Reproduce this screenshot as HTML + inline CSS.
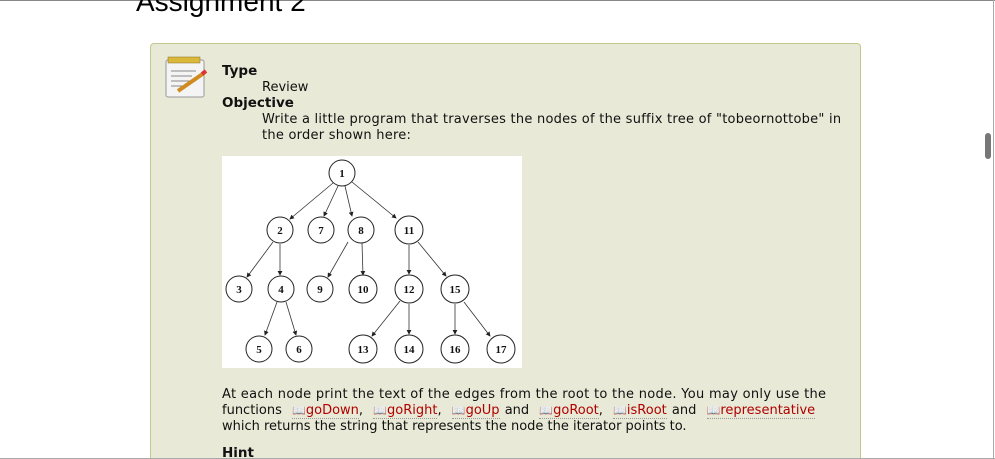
<!DOCTYPE html>
<html style="margin:0;width:995px;height:459px;overflow:hidden"><head><meta charset="utf-8"><style>
body{margin:0;width:995px;height:459px;overflow:hidden;background:#fff;position:relative;font-family:"DejaVu Sans",Verdana,sans-serif;font-size:13px;color:#111}
.a{position:absolute;white-space:nowrap}
.box{position:absolute;left:150px;top:43px;width:709px;height:430px;background:#e8e9d6;border:1px solid #c5c88e;border-radius:4px}
.f{color:#b00000;border-bottom:1px dotted #999}
.ic{color:#999;font-size:11px}
</style></head><body>
<div class="box"></div>
<div style="position:absolute;left:0;top:0;width:995px;height:1px;background:#888"></div>
<div style="position:absolute;right:1px;top:0;width:1px;height:459px;background:#aaa"></div>
<div style="position:absolute;left:0;top:458px;width:995px;height:1px;background:#aaa"></div>
<div class="a" style="left:136px;top:-14px;font-family:'Liberation Sans',sans-serif;font-size:28px;color:#000">Assignment 2</div>
<svg class="a" style="left:162px;top:55px" width="48" height="46">
<rect x="4" y="5" width="38" height="37" rx="2" fill="#f4f4f4" stroke="#999"/>
<rect x="6" y="2" width="32" height="6" fill="#d9b83a" stroke="#8a7020" stroke-width=".5"/>
<line x1="9" y1="16" x2="34" y2="16" stroke="#888"/><line x1="9" y1="21" x2="30" y2="21" stroke="#888"/><line x1="9" y1="26" x2="28" y2="26" stroke="#888"/><line x1="9" y1="31" x2="20" y2="31" stroke="#888"/>
<line x1="16" y1="36" x2="42" y2="18" stroke="#d08a20" stroke-width="4"/><line x1="40" y1="19" x2="44" y2="16" stroke="#d33" stroke-width="4"/>
</svg>
<div class="a" style="left:222px;top:63px;font-weight:bold;font-size:13.5px">Type</div>
<div class="a" style="left:262px;top:80px">Review</div>
<div class="a" style="left:222px;top:95px;font-weight:bold;font-size:13.5px">Objective</div>
<div class="a" style="left:262px;top:112px;letter-spacing:.25px">Write a little program that traverses the nodes of the suffix tree of "tobeornottobe" in</div>
<div class="a" style="left:262px;top:128px;letter-spacing:.25px">the order shown here:</div>
<svg class="a" style="left:222px;top:156px" width="300" height="212" viewBox="222 156 300 212">
<defs><marker id="m" markerWidth="6" markerHeight="6" refX="5" refY="3" orient="auto"><path d="M0,0L6,3L0,6z" fill="#222"/></marker></defs>
<rect x="222" y="156" width="300" height="212" fill="#fff"/>
<g stroke="#333" stroke-width=".8" marker-end="url(#m)">
<line x1="333" y1="183" x2="290" y2="219"/><line x1="338" y1="186" x2="324" y2="216"/><line x1="345" y1="186" x2="352" y2="216"/><line x1="352" y1="182" x2="396" y2="218"/>
<line x1="273" y1="242" x2="247" y2="277"/><line x1="280" y1="244" x2="280" y2="275"/>
<line x1="348" y1="242" x2="328" y2="277"/><line x1="362" y1="243" x2="363" y2="275"/>
<line x1="409" y1="245" x2="409" y2="274"/><line x1="418" y1="242" x2="446" y2="276"/>
<line x1="277" y1="302" x2="265" y2="335"/><line x1="286" y1="302" x2="296" y2="335"/>
<line x1="400" y1="301" x2="372" y2="336"/><line x1="409" y1="304" x2="409" y2="334"/>
<line x1="455" y1="304" x2="455" y2="334"/><line x1="464" y1="302" x2="490" y2="336"/>
</g>
<g fill="none" stroke="#222" stroke-width="1">
<circle cx="342" cy="173" r="13"/><circle cx="280" cy="230" r="13"/><circle cx="321" cy="230" r="13"/><circle cx="361" cy="230" r="13"/><circle cx="409" cy="230" r="14"/>
<circle cx="239" cy="289" r="13"/><circle cx="281" cy="289" r="13"/><circle cx="320" cy="289" r="13"/><circle cx="363" cy="289" r="14"/><circle cx="409" cy="289" r="14"/><circle cx="455" cy="289" r="14"/>
<circle cx="259" cy="349" r="13"/><circle cx="299" cy="349" r="13"/><circle cx="363" cy="349" r="14"/><circle cx="409" cy="349" r="14"/><circle cx="455" cy="349" r="14"/><circle cx="501" cy="349" r="14"/>
</g>
<g font-family="Liberation Serif,serif" font-size="11" font-weight="bold" text-anchor="middle" fill="#111">
<text x="342" y="177">1</text><text x="280" y="234">2</text><text x="321" y="234">7</text><text x="361" y="234">8</text><text x="409" y="234">11</text>
<text x="239" y="293">3</text><text x="281" y="293">4</text><text x="320" y="293">9</text><text x="363" y="293">10</text><text x="409" y="293">12</text><text x="455" y="293">15</text>
<text x="259" y="353">5</text><text x="299" y="353">6</text><text x="363" y="353">13</text><text x="409" y="353">14</text><text x="455" y="353">16</text><text x="501" y="353">17</text>
</g></svg>
<div class="a" style="left:222px;top:387px;letter-spacing:.3px">At each node print the text of the edges from the root to the node. You may only use the</div>
<div class="a" style="left:222px;top:403px;word-spacing:1px">functions &nbsp;<span class="f"><span class="ic">&#x1F4D6;</span>goDown</span>, &nbsp;<span class="f"><span class="ic">&#x1F4D6;</span>goRight</span>, &nbsp;<span class="f"><span class="ic">&#x1F4D6;</span>goUp</span> and &nbsp;<span class="f"><span class="ic">&#x1F4D6;</span>goRoot</span>, &nbsp;<span class="f"><span class="ic">&#x1F4D6;</span>isRoot</span> and &nbsp;<span class="f"><span class="ic">&#x1F4D6;</span>representative</span></div>
<div class="a" style="left:222px;top:419px">which returns the string that represents the node the iterator points to.</div>
<div class="a" style="left:222px;top:445px;font-weight:bold;font-size:13.5px">Hint</div>
<div style="position:absolute;left:985px;top:133px;width:6px;height:26px;border-radius:3px;background:#777"></div>
</body></html>
